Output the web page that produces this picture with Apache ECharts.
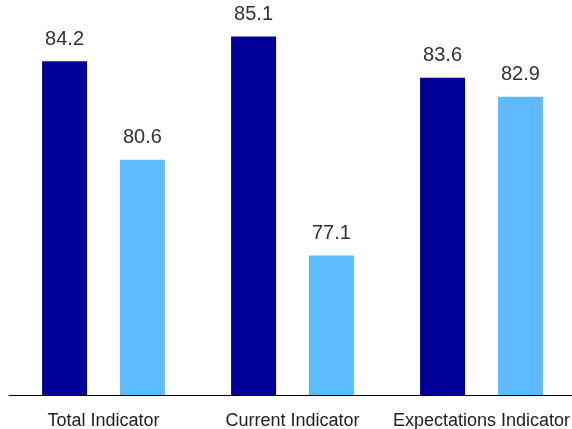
<!DOCTYPE html>
<html>
<head>
<meta charset="utf-8">
<script src="https://cdn.jsdelivr.net/npm/echarts@6/dist/echarts.min.js"></script>
<style>
  html, body { margin: 0; padding: 0; background: #fff; }
  #chart { width: 572px; height: 429px; }
</style>
</head>
<body>
<div id="chart"></div>
<script>
// Indicator groups along the x axis
const categories = ['Total Indicator', 'Current Indicator', 'Expectations Indicator'];
// First (dark) and second (light) reading for each indicator
const seriesA = [84.2, 85.1, 83.6];
const seriesB = [80.6, 77.1, 82.9];

const chart = echarts.init(document.getElementById('chart'));

const labelStyle = {
  show: true,
  position: 'top',
  distance: 12,
  fontSize: 20,
  color: '#333',
  fontFamily: 'Liberation Sans, Arial, sans-serif',
  formatter: p => p.value.toFixed(1)
};

chart.setOption({
  animation: false,
  grid: { left: 9, width: 567, top: 12, bottom: 34, outerBoundsMode: 'none', containLabel: false },
  xAxis: {
    type: 'category',
    data: categories,
    axisLine: { show: true, lineStyle: { color: '#000', width: 1 } },
    axisTick: { show: false },
    axisLabel: {
      interval: 0,
      fontSize: 18,
      color: '#222',
      margin: 17,
      fontFamily: 'Liberation Sans, Arial, sans-serif'
    }
  },
  yAxis: {
    type: 'value',
    min: 72,
    max: 86,
    show: false
  },
  series: [
    {
      type: 'bar',
      data: seriesA,
      barWidth: 45,
      barGap: '73%',
      itemStyle: { color: '#000099' },
      label: labelStyle
    },
    {
      type: 'bar',
      data: seriesB,
      barWidth: 45,
      itemStyle: { color: '#5cbcff' },
      label: labelStyle
    }
  ]
});
</script>
</body>
</html>
